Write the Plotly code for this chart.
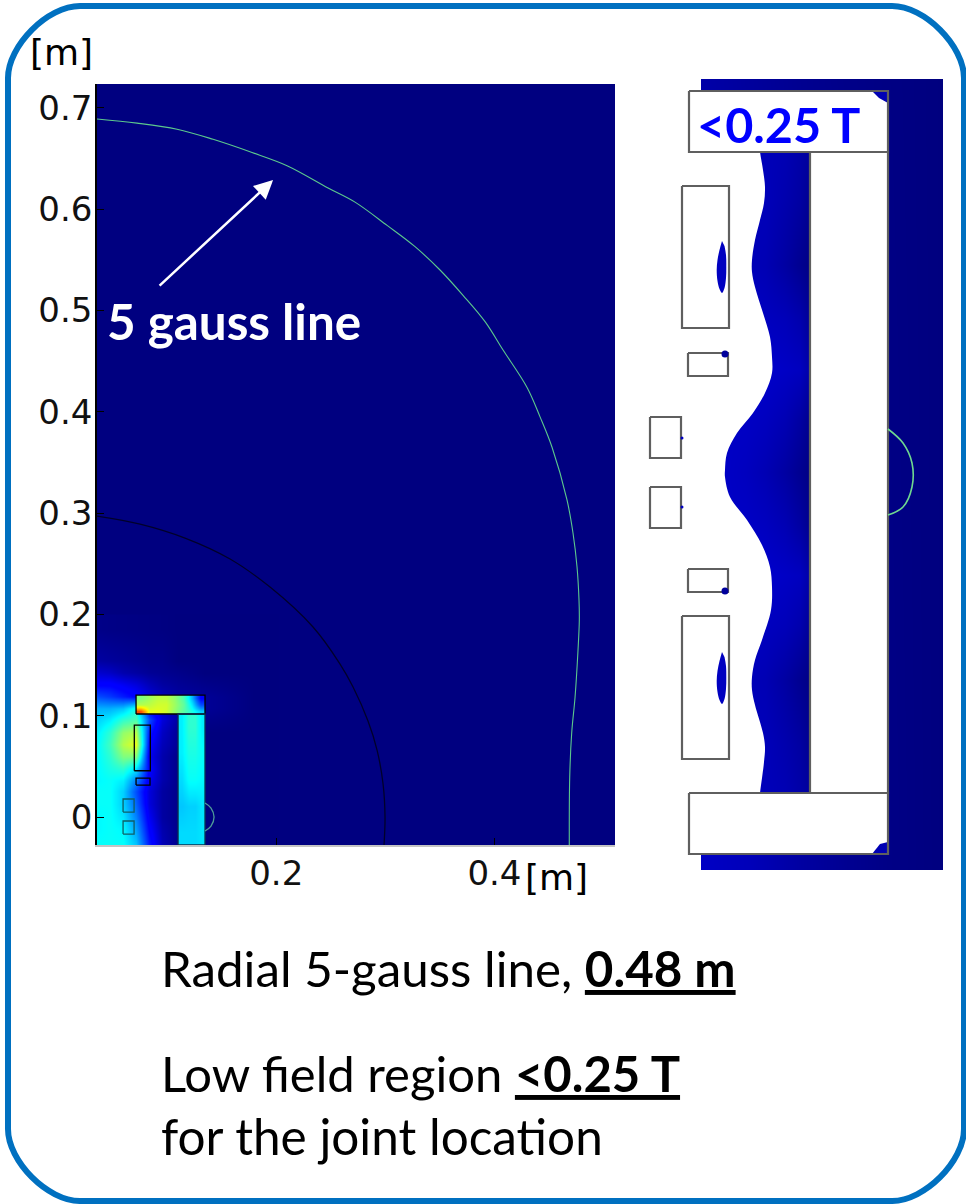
import plotly.graph_objects as go

W, H = 966, 1204
def px(x): return x / W
def py(y): return 1 - y / H

JET = [[0, "#00007f"], [0.11, "#0000ff"], [0.125, "#0000ff"], [0.375, "#00ffff"],
       [0.625, "#ffff00"], [0.875, "#ff0000"], [1, "#7f0000"]]

# ---------- left panel (metres) ----------
tick_y = [0, 0.1, 0.2, 0.3, 0.4, 0.5, 0.6, 0.7]
tick_y_text = ["0", "0.1", "0.2", "0.3", "0.4", "0.5", "0.6", "0.7"]
tick_x = [0.2, 0.4]
tick_x_text = ["0.2", "0.4"]

field_x = [0.0357, 0.0477, 0.0596, 0.0715, 0.0834, 0.0953, 0.11, 0.135, 0.18]
field_y = [-0.028, -0.011, 0.001, 0.013, 0.025, 0.036, 0.048, 0.06, 0.072, 0.084, 0.096, 0.107, 0.119, 0.131, 0.143, 0.155, 0.185]
field_z = [
    [.38, .38, .38, .32, .15, .05, .01, 0, 0],
    [.37, .38, .37, .28, .12, .04, .01, 0, 0],
    [.37, .38, .35, .25, .10, .03, .01, 0, 0],
    [.38, .38, .33, .22, .08, .03, .01, 0, 0],
    [.38, .38, .33, .20, .08, .03, .01, 0, 0],
    [.37, .38, .36, .25, .10, .04, .01, 0, 0],
    [.37, .40, .42, .35, .12, .04, .01, 0, 0],
    [.37, .42, .50, .50, .10, .04, .01, 0, 0],
    [.37, .44, .55, .60, .12, .05, .02, 0, 0],
    [.36, .42, .52, .55, .15, .06, .02, 0, 0],
    [.33, .36, .42, .45, .20, .08, .03, .01, 0],
    [.30, .30, .32, .40, .12, .06, .03, .02, 0],
    [.20, .18, .15, .12, .08, .05, .03, .02, 0],
    [.12, .12, .10, .08, .05, .03, .02, .01, 0],
    [.07, .06, .04, .03, .02, .015, .01, 0, 0],
    [.03, .025, .02, .015, .01, .01, 0, 0, 0],
    [.008, .006, .005, .004, .003, .002, 0, 0, 0],
]

plate_x_edges = [0.0715, 0.0794, 0.0873, 0.0952, 0.1031, 0.1110, 0.1189, 0.1268, 0.1347]
plate_y_edges = [0.1017, 0.1079, 0.1142, 0.1204]
plate_z = [
    [.80, .60, .60, .58, .52, .46, .40, .33],
    [.55, .56, .58, .58, .53, .47, .35, .20],
    [.50, .53, .56, .56, .52, .45, .30, .12],
]

yoke_x_edges = [0.11, 0.1162, 0.1224, 0.1285, 0.1347]
yoke_y_edges = [-0.0276, -0.0017, 0.0242, 0.05, 0.0759, 0.1017]
yoke_z = [
    [.34, .34, .34, .35],
    [.32, .33, .33, .35],
    [.34, .38, .38, .37],
    [.36, .40, .40, .38],
    [.36, .42, .42, .36],
]

gauss5_x = [.0357, .0724, .1091, .1421, .1778, .2099, .2475, .2722, .3016, .3272, .3501, .3712, .3914, .4079, .4299, .4418, .4528, .4665, .4720, .4757, .4775, .4778, .4766, .4739, .4708, .4690, .4686]
gauss5_y = [.689, .685, .679, .669, .656, .643, .621, .607, .584, .563, .540, .515, .489, .461, .424, .395, .365, .313, .2804, .2468, .2142, .1945, .1649, .1185, .0829, .0395, -.0276]

arc_x = [.0357, .0752, .1164, .1577, .1943, .2337, .2585, .2704, .2841, .2924, .2979, .2997, .2988]
arc_y = [.2971, .2892, .2754, .2547, .2270, .1876, .1510, .1283, .0948, .0661, .0326, 0, -.0276]

small_arc_x = [.1347, .1402, .143, .1402, .1347]
small_arc_y = [.0138, .0089, 0, -.0089, -.0138]

left_rects = [
    (.0699, .0846, .0457, .0908, "#000000"),
    (.0715, .0843, .0316, .0385, "#000000"),
    (.0596, .0697, .0049, .0178, "#0f5f66"),
    (.0596, .0697, -.0168, -.0039, "#0f5f66"),
    (.0715, .1347, .1017, .1204, "#000000"),
    (.11, .1347, -.0276, .1017, "#0a3050"),
]

# ---------- right panel (zoomed view, units of the picture) ----------
strip_x = [701, 750, 800, 850, 888, 943]
strip_y = [79, 870]
strip_z = [[.035, .025, .015, .008, .004, 0],
           [.06, .05, .03, .015, .006, 0]]

band_x = [725, 745, 765, 785, 800, 810]
band_y = [152, 200, 265, 320, 370, 420, 472, 525, 575, 625, 680, 745, 793]
band_z = [
    [.05, .05, .05, .045, .035, .025],
    [.05, .05, .05, .04, .03, .015],
    [.05, .05, .045, .03, .015, .005],
    [.06, .06, .055, .05, .04, .02],
    [.07, .07, .065, .06, .055, .035],
    [.06, .06, .055, .045, .03, .012],
    [.06, .055, .045, .03, .015, .004],
    [.06, .06, .055, .045, .03, .012],
    [.07, .07, .065, .06, .055, .035],
    [.06, .06, .055, .05, .04, .02],
    [.05, .05, .045, .03, .015, .005],
    [.05, .05, .05, .04, .03, .015],
    [.05, .05, .05, .045, .035, .025],
]

wave_x = [645, 757, 760, 763, 765, 764, 760, 755, 752, 752, 755, 763, 770, 772, 772, 765, 753, 737, 727, 725, 725, 730, 747, 762, 770, 772, 771, 762, 755, 752, 752, 755, 763, 765, 764, 760, 757, 645]
wave_y = [130, 130, 152, 170, 187, 203, 220, 240, 260, 272, 287, 313, 337, 357, 373, 393, 413, 433, 453, 470, 477, 497, 520, 545, 567, 587, 610, 640, 660, 677, 690, 705, 733, 747, 762, 793, 815, 815]

right_white = [
    (645, 701, 79, 870),
    (810, 888, 152, 793),
    (689, 888, 91, 152),
    (689, 888, 793, 854),
    (682, 729, 186, 328),
    (682, 729, 616, 759),
]
right_outlines = [
    (689, 888, 91, 152), (689, 888, 793, 854), (810, 888, 152, 793),
    (682, 729, 186, 328), (682, 729, 616, 759),
    (688, 728, 353, 376), (688, 728, 569, 592),
    (650, 681, 417, 458), (650, 681, 487, 528),
]
blob_upper_x = [722, 719.5, 717.5, 716.7, 717.5, 719.5, 722, 724.5, 726, 726.3, 726, 724.5]
blob_upper_y = [241, 250, 260, 270, 281, 289, 293, 288, 278, 267, 255, 246]
blob_lower_x = [722, 719.5, 717.5, 716.7, 717.5, 719.5, 722, 724.5, 726, 726.3, 726, 724.5]
blob_lower_y = [652, 661, 671, 681, 692, 700, 704, 699, 689, 678, 666, 657]
wedge_top_x = [872, 888, 888, 879]
wedge_top_y = [91, 91, 103, 98]
wedge_bot_x = [872, 888, 888, 880]
wedge_bot_y = [854, 854, 842, 844]
dots_x = [725, 725]
dots_y = [354, 591]
tiny_x = [682, 682]
tiny_y = [438, 507]
right_arc_x = [888, 903, 912, 912, 903, 888]
right_arc_y = [429, 443, 463, 487, 507, 515]

fig = go.Figure()

def heat(x, y, z, ax="x", ay="y"):
    fig.add_trace(go.Heatmap(x=x, y=y, z=z, colorscale=JET, zmin=0, zmax=1, zsmooth="best",
                             showscale=False, hoverinfo="skip", xaxis=ax, yaxis=ay))

def rect(x0, x1, y0, y1, color, width, ax="x", ay="y"):
    fig.add_trace(go.Scatter(x=[x0, x1, x1, x0, x0], y=[y0, y0, y1, y1, y0], mode="lines",
                             line=dict(color=color, width=width), hoverinfo="skip", xaxis=ax, yaxis=ay))

def poly(x, y, color, ax="x2", ay="y2", shape="linear"):
    fig.add_trace(go.Scatter(x=x, y=y, mode="lines", line=dict(width=0, color=color, shape=shape), fill="toself",
                             fillcolor=color, hoverinfo="skip", xaxis=ax, yaxis=ay))

# left
heat(field_x, field_y, field_z)
heat(yoke_x_edges, yoke_y_edges, yoke_z)
heat(plate_x_edges, plate_y_edges, plate_z)
for x0, x1, y0, y1, c in left_rects:
    rect(x0, x1, y0, y1, c, 1.3)
fig.add_trace(go.Scatter(x=arc_x, y=arc_y, mode="lines", line=dict(color="#00002a", width=1.3, shape="spline"), hoverinfo="skip"))
fig.add_trace(go.Scatter(x=gauss5_x, y=gauss5_y, mode="lines", line=dict(color="#5cc88c", width=1.1, shape="spline"), hoverinfo="skip"))
fig.add_trace(go.Scatter(x=small_arc_x, y=small_arc_y, mode="lines", line=dict(color="#4f9c98", width=1.3, shape="spline"), hoverinfo="skip"))

# right
heat(strip_x, strip_y, strip_z, "x2", "y2")
heat(band_x, band_y, band_z, "x2", "y2")
poly(wave_x, wave_y, "#ffffff", shape="spline")
for x0, x1, y0, y1 in right_white:
    poly([x0, x1, x1, x0, x0], [y0, y0, y1, y1, y0], "#ffffff")
poly(wedge_top_x, wedge_top_y, "#0000b4")
poly(wedge_bot_x, wedge_bot_y, "#0000b4")
poly(blob_upper_x, blob_upper_y, "#0000c0", shape="spline")
poly(blob_lower_x, blob_lower_y, "#0000c0", shape="spline")
for x0, x1, y0, y1 in right_outlines:
    rect(x0, x1, y0, y1, "#5f5f5f", 2.2, "x2", "y2")
fig.add_trace(go.Scatter(x=dots_x, y=dots_y, mode="markers", marker=dict(size=7, color="#00009c"), hoverinfo="skip", xaxis="x2", yaxis="y2"))
fig.add_trace(go.Scatter(x=tiny_x, y=tiny_y, mode="markers", marker=dict(size=3, color="#0000c0"), hoverinfo="skip", xaxis="x2", yaxis="y2"))
fig.add_trace(go.Scatter(x=right_arc_x, y=right_arc_y, mode="lines", line=dict(color="#6fd890", width=1.6, shape="spline"), hoverinfo="skip", xaxis="x2", yaxis="y2"))

# frame
k = 72 * 0.45
L, T, R, B, r = 8, 6, 964, 1201, 72
P = lambda x, y: f"{px(x):.5f},{py(y):.5f}"
frame = (f"M{P(L+r,T)} L{P(R-r,T)} C{P(R-r+k,T)} {P(R,T+r-k)} {P(R,T+r)} L{P(R,B-r)} "
         f"C{P(R,B-r+k)} {P(R-r+k,B)} {P(R-r,B)} L{P(L+r,B)} C{P(L+r-k,B)} {P(L,B-r+k)} {P(L,B-r)} "
         f"L{P(L,T+r)} C{P(L,T+r-k)} {P(L+r-k,T)} {P(L+r,T)} Z")

SANS = "DejaVu Sans"
LATO = "Lato"
def note(x, y, text, size, color="#000000", font=LATO, xanchor="left"):
    fig.add_annotation(xref="paper", yref="paper", x=px(x), y=py(y), text=text, showarrow=False,
                       xanchor=xanchor, yanchor="middle", align="left",
                       font=dict(family=font, size=size, color=color))

note(28, 53, "[m]", 36, font=SANS)
note(523, 878, "[m]", 36, font=SANS)
note(105, 321, "<b>5 gauss line</b>", 49.4, color="#ffffff")
note(695, 124, "<b>&lt;0.25 T</b>", 48.5, color="#0000ff")
note(159, 968, "Radial 5-gauss line, <b><u>0.48 m</u></b>", 49.3)
note(159, 1073, "Low field region <b><u>&lt;0.25 T</u></b>", 49)
note(159, 1136, "for the joint location", 49.5)

fig.add_annotation(xref="x", yref="y", axref="x", ayref="y", x=0.1971, y=0.6288, ax=0.0917, ay=0.5232,
                   text="", showarrow=True, arrowcolor="#ffffff", arrowwidth=2.5, arrowhead=2, arrowsize=1.5)

fig.update_layout(
    width=W, height=H, autosize=False, margin=dict(l=0, r=0, t=0, b=0),
    paper_bgcolor="#ffffff", plot_bgcolor="#000080", showlegend=False,
    shapes=[dict(type="path", xref="paper", yref="paper", path=frame,
                 line=dict(color="#0070c0", width=6), layer="below")],
    xaxis=dict(domain=[px(97), px(615)], range=[0.0357, 0.5105], anchor="y", tickmode="array",
               tickvals=tick_x, ticktext=tick_x_text, ticks="inside", ticklen=7, tickwidth=1, tickcolor="#000000",
               showline=True, linecolor="#c4c4c4", linewidth=1.5, showgrid=False, zeroline=False,
               ticklabelstandoff=-3,
               tickfont=dict(family=SANS, size=34, color="#111111")),
    yaxis=dict(domain=[py(845), py(84)], range=[-0.0276, 0.7236], anchor="x", tickmode="array",
               tickvals=tick_y, ticktext=tick_y_text, ticks="inside", ticklen=7, tickwidth=1, tickcolor="#000000",
               showline=True, linecolor="#000000", linewidth=1.5, showgrid=False, zeroline=False,
               ticklabelstandoff=-4,
               tickfont=dict(family=SANS, size=34, color="#111111")),
    xaxis2=dict(domain=[px(645), px(943)], range=[645, 943], anchor="y2", visible=False),
    yaxis2=dict(domain=[py(870), py(79)], range=[870, 79], anchor="x2", visible=False),
)

fig.write_html("out.html", config={"displayModeBar": False},
               post_script="document.body.style.margin='0';document.documentElement.style.overflow='hidden';")
